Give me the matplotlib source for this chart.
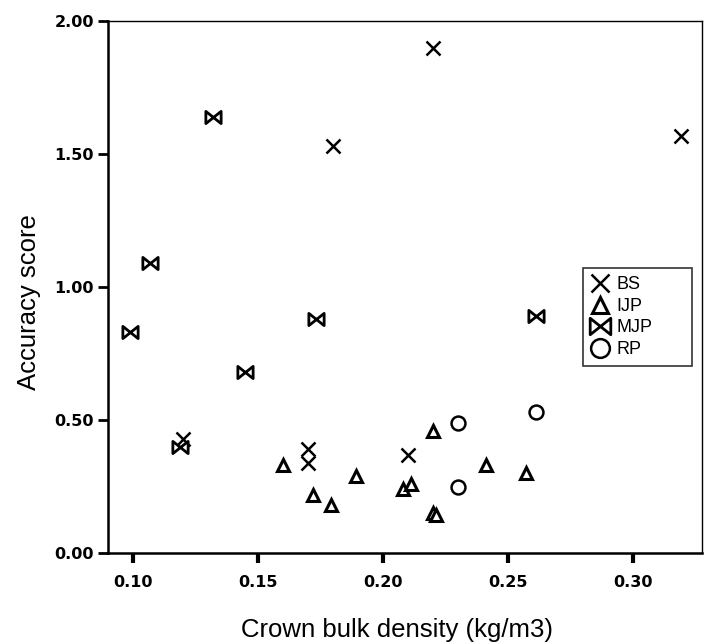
import numpy as np
import matplotlib as mpl
import matplotlib.pyplot as plt
from matplotlib.path import Path

mpl.rcParams["font.family"] = ["Liberation Sans", "DejaVu Sans"]

# Accuracy score against crown bulk density, per fuel type.
bs_x = [0.12, 0.17, 0.17, 0.18, 0.21, 0.22, 0.319]
bs_y = [0.43, 0.39, 0.34, 1.53, 0.37, 1.90, 1.57]

ijp_x = [0.16, 0.172, 0.179, 0.189, 0.208, 0.211, 0.22, 0.22, 0.221, 0.241, 0.257]
ijp_y = [0.33, 0.22, 0.18, 0.29, 0.24, 0.26, 0.46, 0.15, 0.145, 0.33, 0.30]

mjp_x = [0.099, 0.107, 0.119, 0.132, 0.145, 0.173, 0.261]
mjp_y = [0.83, 1.09, 0.40, 1.64, 0.68, 0.88, 0.89]

rp_x = [0.23, 0.23, 0.261]
rp_y = [0.49, 0.25, 0.53]

x_ticks = [0.10, 0.15, 0.20, 0.25, 0.30]
y_ticks = [0.0, 0.5, 1.0, 1.5, 2.0]

# Bowtie marker: two triangles meeting at the centre.
bowtie = Path([(-1, -0.8), (1, 0.8), (1, -0.8), (-1, 0.8), (-1, -0.8)],
              [Path.MOVETO, Path.LINETO, Path.LINETO, Path.LINETO, Path.CLOSEPOLY])

fig = plt.figure(figsize=(7.10, 6.44), dpi=100)
ax = fig.add_axes([0.152, 0.141, 0.837, 0.826])

ax.plot(bs_x, bs_y, linestyle="none", marker="x", markersize=10,
        markeredgewidth=1.8, color="black", label="BS")
ax.plot(ijp_x, ijp_y, linestyle="none", marker="^", markersize=9,
        markeredgewidth=2.2, markerfacecolor="white", markeredgecolor="black",
        label="IJP")
ax.plot(mjp_x, mjp_y, linestyle="none", marker=bowtie, markersize=11,
        markeredgewidth=2.0, markerfacecolor="white", markeredgecolor="black",
        label="MJP")
ax.plot(rp_x, rp_y, linestyle="none", marker="o", markersize=10,
        markeredgewidth=1.8, markerfacecolor="white", markeredgecolor="black",
        label="RP")

ax.set_xlim(0.09, 0.3276)
ax.set_ylim(0.0, 2.0)
ax.set_xticks(x_ticks)
ax.set_xticklabels([f"{v:.2f}" for v in x_ticks])
ax.set_yticks(y_ticks)
ax.set_yticklabels([f"{v:.2f}" for v in y_ticks])

for side in ["left", "bottom"]:
  ax.spines[side].set_linewidth(1.8)
for side in ["top", "right"]:
  ax.spines[side].set_linewidth(1.0)

ax.tick_params(axis="x", direction="out", length=7, width=3, pad=9)
ax.tick_params(axis="y", direction="out", length=7, width=2, pad=3)
for lab in ax.get_xticklabels() + ax.get_yticklabels():
  lab.set_fontfamily("DejaVu Sans")
  lab.set_fontweight("bold")
  lab.set_fontsize(11.5)

ax.set_xlabel("Crown bulk density (kg/m3)", fontsize=18.5)
ax.set_ylabel("Accuracy score", fontsize=18.5)
ax.xaxis.set_label_coords(0.4865, -0.122)
ax.yaxis.set_label_coords(-0.113, 0.472)

leg = ax.legend(loc="upper left", bbox_to_anchor=(0.7997, 0.5357, 0.1835, 0.0),
                mode="expand", frameon=True, fancybox=False, edgecolor="black",
                fontsize=13, markerscale=1.35, handlelength=1.0,
                handletextpad=0.4, borderpad=0.45, labelspacing=0.25,
                borderaxespad=0.0)
leg.get_frame().set_linewidth(1.2)

fig.savefig("out.png", dpi=100)
